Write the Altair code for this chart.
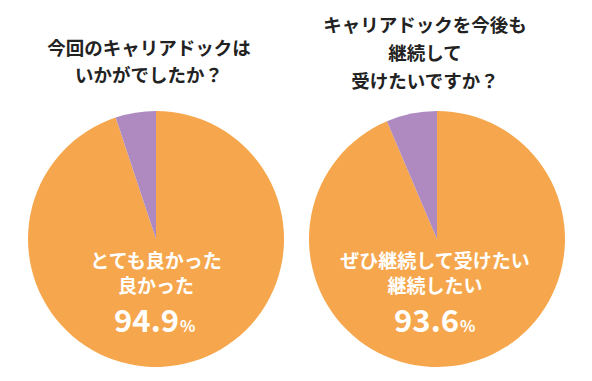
import altair as alt
import pandas as pd

panels = ["left", "right"]
categories = ["yes", "no"]
left_values = [94.9, 5.1]
right_values = [93.6, 6.4]
left_title = ["今回のキャリアドックは", "いかがでしたか？"]
right_title = ["キャリアドックを今後も", "継続して", "受けたいですか？"]
left_label = ["とても良かった", "良かった"]
right_label = ["ぜひ継続して受けたい", "継続したい"]
left_pct = "94.9"
right_pct = "93.6"

colors = ["#F6A74D", "#AE8AC0"]
FONT = "Noto Sans CJK JP"

rows = []
for p, vals in zip(panels, [left_values, right_values]):
    for i, (c, v) in enumerate(zip(categories, vals)):
        rows.append({"panel": p, "cat": c, "value": v, "ord": i})
df = pd.DataFrame(rows)

centers = {"left": (148, 231), "right": (429, 231)}
R = 128

def pie(p):
    cx, cy = centers[p]
    return alt.Chart(df).transform_filter(alt.datum.panel == p).mark_arc(
        outerRadius=R, stroke=None
    ).encode(
        theta=alt.Theta("value:Q", stack=True),
        order=alt.Order("ord:Q"),
        color=alt.Color("cat:N", scale=alt.Scale(domain=categories, range=colors), legend=None),
        x=alt.value(cx),
        y=alt.value(cy),
    )

def texts(lines, x, y0, dy, size, color, weight="bold"):
    layers = []
    for i, t in enumerate(lines):
        layers.append(
            alt.Chart(pd.DataFrame({"t": [t]})).mark_text(
                font=FONT, fontSize=size, fontWeight=weight, color=color,
                align="center", baseline="middle"
            ).encode(text="t:N", x=alt.value(x), y=alt.value(y0 + i * dy))
        )
    return layers

def pct(num, xr, y):
    a = alt.Chart(pd.DataFrame({"t": [num]})).mark_text(
        font=FONT, fontSize=31, fontWeight="bold", color="white",
        align="right", baseline="alphabetic"
    ).encode(text="t:N", x=alt.value(xr), y=alt.value(y))
    b = alt.Chart(pd.DataFrame({"t": ["%"]})).mark_text(
        font=FONT, fontSize=16, fontWeight="bold", color="white",
        align="left", baseline="alphabetic"
    ).encode(text="t:N", x=alt.value(xr + 1), y=alt.value(y))
    return [a, b]

layers = [pie("left"), pie("right")]
layers += texts(left_title, 141, 41, 27, 18.5, "#222222")
layers += texts(right_title, 417, 18, 28, 18.5, "#222222")
layers += texts(left_label, 148, 254, 25, 19, "white")
layers += texts(right_label, 427, 254, 25, 19, "white")
layers += pct(left_pct, 171, 324)
layers += pct(right_pct, 451, 324)

chart = alt.layer(*layers).properties(
    width=576, height=365, padding=0, autosize="none"
).configure_view(stroke=None)

chart.save("out.html", embed_options={"renderer": "svg", "actions": False})
